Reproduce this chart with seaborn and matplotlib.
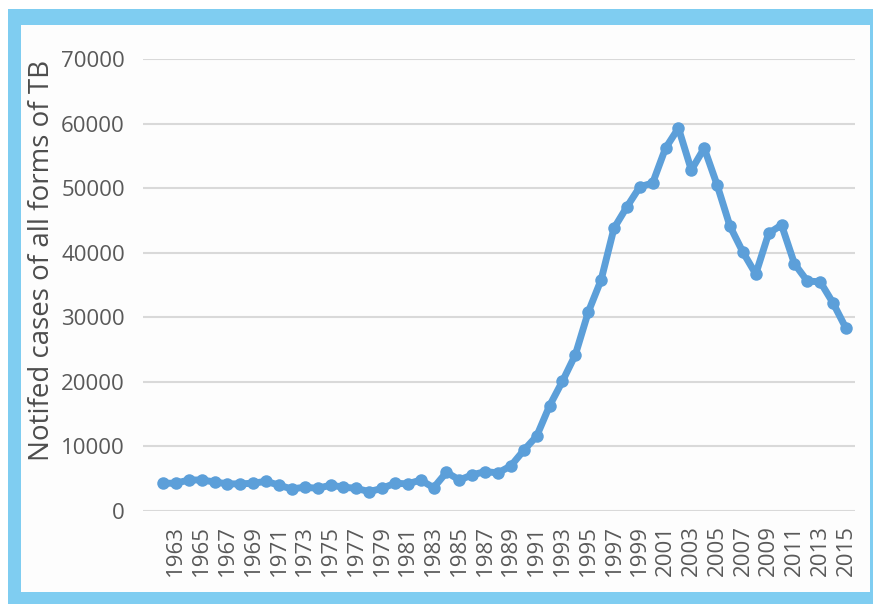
import matplotlib
matplotlib.use("Agg")
import matplotlib.pyplot as plt
from matplotlib.patches import Rectangle
import pandas as pd
import seaborn as sns

# Notified TB cases per year, 1962-2015
years = list(range(1962, 2016))
cases = [
    4300, 4300, 4800, 4800, 4500, 4200, 4200, 4300, 4600, 4000,
    3400, 3700, 3500, 4000, 3700, 3500, 3000, 3500, 4300, 4200,
    4800, 3600, 6000, 4800, 5600, 6100, 5900, 7000, 9400, 11600,
    16300, 20100, 24200, 30800, 35800, 43800, 47100, 50200, 50800, 56200,
    59300, 52800, 56200, 50500, 44100, 40100, 36700, 43000, 44300, 38300,
    35600, 35500, 32200, 28300,
]
tick_years = list(range(1963, 2016, 2))
y_ticks = [0, 10000, 20000, 30000, 40000, 50000, 60000, 70000]
y_label = "Notifed cases of all forms of TB"

df = pd.DataFrame({"year": years, "cases": cases})

sns.set_theme(style="white")
plt.rcParams["font.family"] = ["Open Sans", "DejaVu Sans"]

W, H = 873, 604
fig = plt.figure(figsize=(W / 100, H / 100), dpi=100)
fig.patch.set_facecolor("white")

# light blue frame with white panel inside
fig.patches.append(Rectangle((8 / W, 0), 1 - 8 / W, (H - 9) / H,
                             transform=fig.transFigure, facecolor="#7fcdf1",
                             edgecolor="none", zorder=-3))
fig.patches.append(Rectangle((21 / W, 12 / H), (870 - 21) / W, (592 - 25) / H,
                             transform=fig.transFigure, facecolor="#fdfdfd",
                             edgecolor="none", zorder=-2))

ax = fig.add_axes([143 / W, 1 - 511 / H, (855 - 143) / W, (511 - 59) / H])
ax.set_facecolor("none")
ax.set_zorder(2)

sns.lineplot(data=df, x="year", y="cases", ax=ax, color="#5c9fd9",
             linewidth=5, marker="o", markersize=9, markeredgewidth=0,
             zorder=3)

ax.set_ylim(0, 70000)
ax.set_xlim(1960.45, 2015.7)
ax.set_yticks(y_ticks)
ax.set_yticklabels([str(v) for v in y_ticks])
ax.set_xticks(tick_years)
ax.set_xticklabels([str(y) for y in tick_years], rotation=90)

ax.yaxis.grid(True, color="#d9d9d9", linewidth=1.5)
ax.xaxis.grid(False)
ax.set_axisbelow(True)
for s in ax.spines.values():
    s.set_visible(False)

ax.tick_params(axis="y", length=0, pad=13, labelsize=16, labelcolor="#595959")
ax.tick_params(axis="x", length=0, pad=10, labelsize=16, labelcolor="#595959")

ax.set_xlabel("")
ax.set_ylabel(y_label, fontsize=20, color="#4d4d4d")
ax.yaxis.set_label_coords(-0.122, 0.555)

fig.savefig("out.png", dpi=100, facecolor=fig.get_facecolor())
